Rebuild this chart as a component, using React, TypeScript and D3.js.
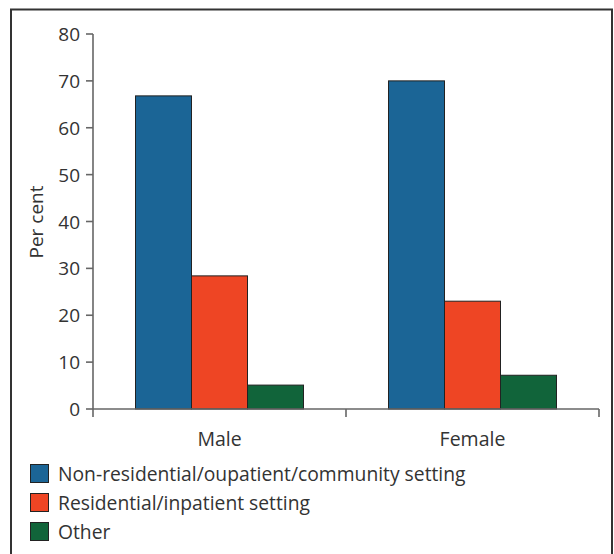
import React from "react";
import * as d3 from "d3";

const categories = ["Male", "Female"];
const seriesNames = [
  "Non-residential/oupatient/community setting",
  "Residential/inpatient setting",
  "Other",
];
const seriesColors = ["#1b6596", "#ee4524", "#11643a"];
const maleValues = [66.8, 28.4, 5.1];
const femaleValues = [70.0, 23.0, 7.2];
const values = [maleValues, femaleValues];
const yTicks = [0, 10, 20, 30, 40, 50, 60, 70, 80];

const W = 614;
const H = 554;
const FONT = "'Open Sans', 'Noto Sans', sans-serif";

export default function App() {
  const x0 = 93;
  const x1 = 599;
  const yBase = 409;
  const yTop = 34;
  const y = d3.scaleLinear().domain([0, 80]).range([yBase, yTop]);
  const xBand = d3.scaleBand().domain(categories).range([x0, x1]).padding(0);
  const groupW = 168;
  const inner = d3
    .scaleBand()
    .domain(seriesNames)
    .range([0, groupW])
    .padding(0);

  return (
    <svg
      width={W}
      height={H}
      style={{ position: "absolute", left: 0, top: 0, background: "#fff" }}
      fontFamily={FONT}
    >
      <rect x={0} y={0} width={W} height={H} fill="#fff" />
      <path d={`M11,${H + 5} V9.5 H612 V${H + 5}`} fill="none" stroke="#333" strokeWidth={2} />

      {/* bars */}
      {categories.map((c, ci) => {
        const cx = (xBand(c) as number) + xBand.bandwidth() / 2;
        const gx = cx - groupW / 2;
        return (
          <g key={c}>
            {seriesNames.map((s, si) => (
              <rect
                key={s}
                x={gx + (inner(s) as number)}
                y={y(values[ci][si])}
                width={inner.bandwidth()}
                height={yBase - y(values[ci][si])}
                fill={seriesColors[si]}
                stroke="#222"
                strokeWidth={1}
              />
            ))}
          </g>
        );
      })}

      {/* y axis */}
      <line x1={x0} x2={x0} y1={yTop} y2={yBase + 8} stroke="#666" strokeWidth={1.6} />
      {yTicks.map((t) => (
        <g key={t}>
          <line x1={86} x2={x0} y1={y(t)} y2={y(t)} stroke="#666" strokeWidth={1.6} />
          <text
            x={80}
            y={y(t)}
            textAnchor="end"
            dominantBaseline="central"
            fontSize={19}
            fill="#333"
          >
            {t}
          </text>
        </g>
      ))}

      {/* x axis */}
      <line x1={x0} x2={x1} y1={yBase} y2={yBase} stroke="#666" strokeWidth={1.6} />
      {categories.map((c) => (
        <line
          key={c}
          x1={(xBand(c) as number) + xBand.bandwidth()}
          x2={(xBand(c) as number) + xBand.bandwidth()}
          y1={yBase}
          y2={yBase + 8}
          stroke="#666"
          strokeWidth={1.6}
        />
      ))}
      {categories.map((c) => (
        <text
          key={c}
          x={(xBand(c) as number) + xBand.bandwidth() / 2}
          y={438}
          textAnchor="middle"
          dominantBaseline="central"
          fontSize={19.5}
          fill="#333"
        >
          {c}
        </text>
      ))}

      <text
        transform={`translate(36,222) rotate(-90)`}
        textAnchor="middle"
        dominantBaseline="central"
        fontSize={19}
        fill="#333"
      >
        Per cent
      </text>

      {/* legend */}
      {seriesNames.map((s, si) => (
        <g key={s} transform={`translate(30,${464 + si * 29})`}>
          <rect x={0.5} y={0.5} width={18} height={18} fill={seriesColors[si]} stroke="#222" strokeWidth={1} />
          <text x={28} y={9.5} dominantBaseline="central" fontSize={19.3} fill="#333">
            {s}
          </text>
        </g>
      ))}
    </svg>
  );
}
